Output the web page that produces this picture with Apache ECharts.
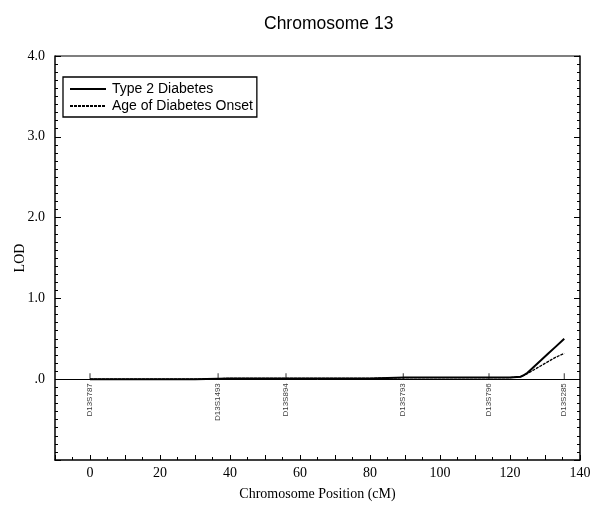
<!DOCTYPE html>
<html>
<head>
<meta charset="utf-8">
<script src="https://cdn.jsdelivr.net/npm/echarts@6/dist/echarts.min.js"></script>
<style>html,body{margin:0;padding:0;background:#fff;}#c{width:595px;height:506px;}</style>
</head>
<body>
<div id="c"></div>
<script>
var positions = [0, 10, 20, 30, 40, 50, 60, 70, 80, 90, 100, 110, 120, 123, 124, 125, 127, 129, 131, 133, 135.5];
var type2Diabetes = [0.0, 0.0, 0.0, 0.0, 0.01, 0.01, 0.01, 0.01, 0.01, 0.02, 0.02, 0.02, 0.02, 0.03, 0.05, 0.08, 0.16, 0.24, 0.32, 0.40, 0.50];
var ageOfOnset = [0.0, 0.0, 0.0, 0.0, 0.01, 0.01, 0.01, 0.01, 0.01, 0.02, 0.02, 0.02, 0.02, 0.03, 0.05, 0.07, 0.12, 0.17, 0.22, 0.27, 0.32];
var markerNames = ['D13S787', 'D13S1493', 'D13S894', 'D13S793', 'D13S796', 'D13S285'];
var markerPos = [0, 36.6, 56, 89.5, 114, 135.5];
var xTickLabels = [0, 20, 40, 60, 80, 100, 120, 140];
var yTickLabels = {'4': '4.0', '3': '3.0', '2': '2.0', '1': '1.0', '0': '.0'};

function pairs(xs, ys) { return xs.map(function (x, i) { return [x, ys[i]]; }); }

var chart = echarts.init(document.getElementById('c'), null, {renderer: 'canvas'});
var serif = 'Liberation Serif';
var sans = 'Liberation Sans';
chart.setOption({
  animation: false,
  backgroundColor: '#fff',
  title: {
    text: 'Chromosome 13', left: 259, top: 10,
    textStyle: {fontFamily: sans, fontSize: 17.5, fontWeight: 'normal', color: '#000'}
  },
  legend: {
    orient: 'vertical', left: 63, top: 77,
    data: ['Type 2 Diabetes', 'Age of Diabetes Onset'],
    itemWidth: 36, itemHeight: 10, itemGap: 3,
    padding: [5, 4, 4, 6],
    borderColor: '#000', borderWidth: 1.3, borderRadius: 0,
    itemStyle: {opacity: 0},
    textStyle: {fontFamily: sans, fontSize: 14, color: '#000', padding: [0, 0, 0, 1]}
  },
  grid: {left: 55, right: 15, top: 56, bottom: 46, containLabel: false, outerBoundsMode: 'none'},
  xAxis: {
    type: 'value', min: -10, max: 140, interval: 10,
    name: 'Chromosome Position (cM)', nameLocation: 'middle', nameGap: 27, nameMoveOverlap: false,
    nameTextStyle: {fontFamily: serif, fontSize: 14, color: '#000'},
    axisLine: {show: true, onZero: false, lineStyle: {color: '#000', width: 1.5}},
    axisTick: {show: true, inside: true, length: 5, lineStyle: {color: '#000'}},
    minorTick: {show: true, splitNumber: 2, length: 3, lineStyle: {color: '#000'}},
    splitLine: {show: false},
    axisLabel: {
      margin: 6, fontFamily: serif, fontSize: 14, color: '#000',
      formatter: function (v) { return xTickLabels.indexOf(v) >= 0 ? String(v) : ''; }
    }
  },
  yAxis: [{
    type: 'value', min: -1, max: 4, interval: 1,
    name: 'LOD', nameLocation: 'middle', nameGap: 28, nameRotate: 90, nameMoveOverlap: false,
    nameTextStyle: {fontFamily: serif, fontSize: 14, color: '#000'},
    axisLine: {show: true, onZero: false, lineStyle: {color: '#000', width: 1.5}},
    axisTick: {show: true, inside: true, length: 6, lineStyle: {color: '#000'}},
    minorTick: {show: true, splitNumber: 10, length: 3, lineStyle: {color: '#000'}},
    splitLine: {show: false},
    axisLabel: {
      margin: 10, fontFamily: serif, fontSize: 14, color: '#000',
      formatter: function (v) { var k = String(Math.round(v)); return yTickLabels[k] || ''; }
    }
  }, {
    type: 'value', min: -1, max: 4, interval: 1, position: 'right',
    axisLine: {show: true, onZero: false, lineStyle: {color: '#000', width: 1.5}},
    axisTick: {show: true, inside: true, length: 6, lineStyle: {color: '#000'}},
    minorTick: {show: true, splitNumber: 10, length: 3, lineStyle: {color: '#000'}},
    splitLine: {show: false},
    axisLabel: {show: false}
  }],
  graphic: [{
    type: 'line', silent: true,
    shape: {x1: 55, y1: 56, x2: 580, y2: 56},
    style: {stroke: '#000', lineWidth: 1.2}
  }],
  series: [{
    name: 'Type 2 Diabetes', type: 'line', symbol: 'none', showSymbol: false, smooth: false,
    data: pairs(positions, type2Diabetes),
    lineStyle: {color: '#000', width: 2}, itemStyle: {color: '#000'},
    markLine: {
      silent: true, symbol: 'none', label: {show: false},
      lineStyle: {color: '#000', width: 1, type: 'solid'},
      data: [{yAxis: 0}]
    },
    z: 3
  }, {
    name: 'Age of Diabetes Onset', type: 'line', symbol: 'none', showSymbol: false, smooth: false,
    data: pairs(positions, ageOfOnset),
    lineStyle: {color: '#000', width: 1.3, type: [3, 1]}, itemStyle: {color: '#000'},
    z: 3
  }, {
    name: 'markers', type: 'scatter',
    symbol: 'rect', symbolSize: [1, 6], symbolOffset: [0, -3],
    itemStyle: {color: '#000'},
    data: markerPos.map(function (p, i) { return {name: markerNames[i], value: [p, 0]}; }),
    label: {
      show: true, formatter: '{b}', position: [0, 10], rotate: 90,
      align: 'right', verticalAlign: 'middle',
      fontFamily: sans, fontSize: 8, color: '#000'
    },
    z: 4
  }]
});
</script>
</body>
</html>
